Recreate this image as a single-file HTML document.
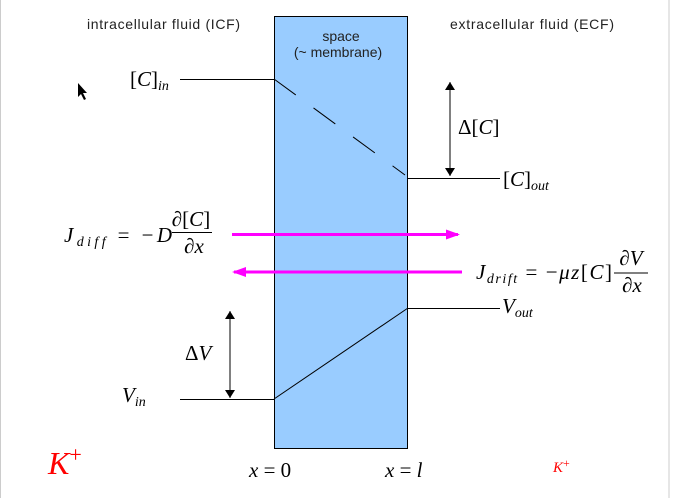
<!DOCTYPE html>
<html><head><meta charset="utf-8"><style>
html,body{margin:0;padding:0;background:#fff;}
svg{display:block;}
.s{font-family:"Liberation Sans",sans-serif;font-size:14px;fill:#222;}
.m{font-family:"Liberation Serif",serif;font-size:21px;fill:#000;}
.i{font-style:italic;}
</style></head><body>
<svg width="675" height="498" viewBox="0 0 675 498" xmlns="http://www.w3.org/2000/svg">
<defs>
<marker id="ab" markerWidth="8" markerHeight="10" refX="8" refY="5" orient="auto-start-reverse" markerUnits="userSpaceOnUse"><path d="M0,0 L8,5 L0,10 Z" fill="#000"/></marker>
<marker id="am" markerWidth="14" markerHeight="10" refX="12" refY="5" orient="auto" markerUnits="userSpaceOnUse"><path d="M0,0 L14,5 L0,10 Z" fill="#f0f"/></marker>
</defs>
<rect x="0" y="0" width="675" height="498" fill="#fff"/>
<line x1="0.5" y1="0" x2="0.5" y2="498" stroke="#ccc"/>
<line x1="669" y1="0" x2="669" y2="498" stroke="#ccc"/>
<rect x="274.5" y="16.5" width="133" height="432" fill="#99ccff" stroke="#000"/>
<text class="s" x="87" y="29" textLength="153">intracellular fluid  (ICF)</text>
<text class="s" x="450" y="29" textLength="164">extracellular fluid  (ECF)</text>
<text class="s" x="341" y="41" text-anchor="middle">space</text>
<text class="s" x="338" y="57" text-anchor="middle">(~ membrane)</text>
<path d="M78,83 L78,97 L81,94 L84,100 L86,99 L83,93 L87,93 Z" fill="#000"/>
<line x1="180" y1="79.5" x2="274" y2="79.5" stroke="#000"/>
<line x1="274" y1="79" x2="405" y2="175" stroke="#000" stroke-dasharray="27,22"/>
<line x1="408" y1="178.5" x2="500" y2="178.5" stroke="#000"/>
<line x1="450" y1="82" x2="450" y2="176" stroke="#000" marker-start="url(#ab)" marker-end="url(#ab)"/>
<text class="m" x="130" y="86">[<tspan class="i">C</tspan>]<tspan class="i" font-size="14" dy="4">in</tspan></text>
<text class="m" x="458" y="134">Δ[<tspan class="i">C</tspan>]</text>
<text class="m" x="503" y="186">[<tspan class="i">C</tspan>]<tspan class="i" font-size="14" dy="4">out</tspan></text>
<line x1="232" y1="234.5" x2="458" y2="234.5" stroke="#f0f" stroke-width="3" marker-end="url(#am)"/>
<line x1="462" y1="272" x2="234" y2="272" stroke="#f0f" stroke-width="3" marker-end="url(#am)"/>
<text class="m" x="64" y="242" textLength="108"><tspan class="i">J</tspan><tspan class="i" font-size="14" dy="4">diff</tspan><tspan dy="-4"> = −</tspan><tspan class="i">D</tspan></text>
<text class="m" x="191" y="226" text-anchor="middle">∂[<tspan class="i">C</tspan>]</text>
<line x1="172" y1="232.5" x2="212" y2="232.5" stroke="#000"/>
<text class="m i" x="194" y="253" text-anchor="middle">∂x</text>
<text class="m" x="476" y="279" textLength="136"><tspan class="i">J</tspan><tspan class="i" font-size="14" dy="4">drift</tspan><tspan dy="-4"> = −</tspan><tspan class="i">μz</tspan>[<tspan class="i">C</tspan>]</text>
<text class="m i" x="631" y="265" text-anchor="middle">∂V</text>
<line x1="614" y1="273" x2="648" y2="273" stroke="#000"/>
<text class="m i" x="632" y="292" text-anchor="middle">∂x</text>
<line x1="408" y1="308.5" x2="500" y2="308.5" stroke="#000"/>
<line x1="274" y1="399" x2="408" y2="308" stroke="#000"/>
<line x1="180" y1="399.5" x2="274" y2="399.5" stroke="#000"/>
<line x1="230" y1="311" x2="230" y2="398" stroke="#000" marker-start="url(#ab)" marker-end="url(#ab)"/>
<text class="m" x="502" y="313"><tspan class="i">V</tspan><tspan class="i" font-size="14" dy="4">out</tspan></text>
<text class="m" x="185" y="360">Δ<tspan class="i">V</tspan></text>
<text class="m" x="122" y="402"><tspan class="i">V</tspan><tspan class="i" font-size="14" dy="4">in</tspan></text>
<text class="m" x="249" y="477"><tspan class="i">x</tspan> = 0</text>
<text class="m" x="385" y="477"><tspan class="i">x</tspan> = <tspan class="i">l</tspan></text>
<text x="48" y="474" font-family="Liberation Serif,serif" font-style="italic" font-size="32" fill="#f00">K<tspan font-style="normal" font-size="22" dy="-12">+</tspan></text>
<text x="553" y="472" font-family="Liberation Serif,serif" font-style="italic" font-size="15" fill="#f00">K<tspan font-style="normal" font-size="12" dy="-5">+</tspan></text>
</svg>
</body></html>
